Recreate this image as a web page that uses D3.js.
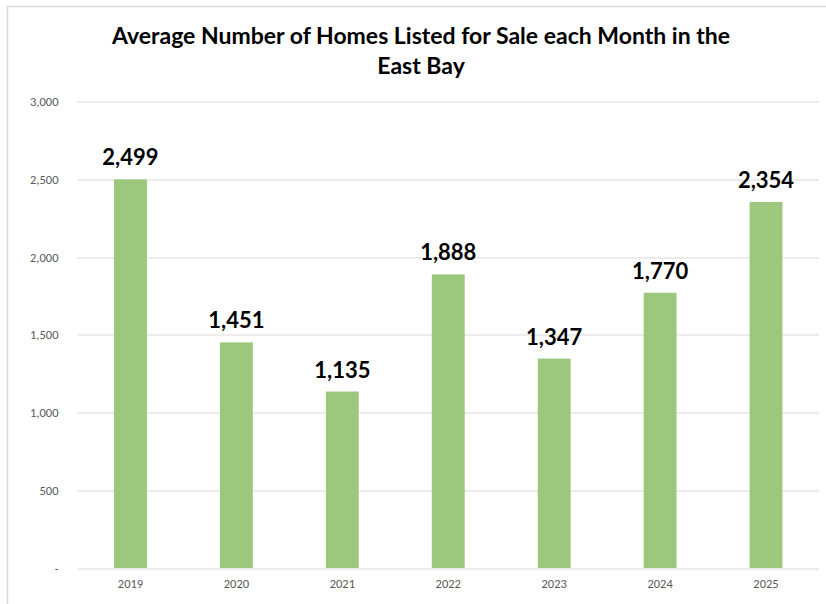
<!DOCTYPE html>
<html>
<head>
<meta charset="utf-8">
<script src="https://cdn.jsdelivr.net/npm/d3@7"></script>
<style>
  body { margin: 0; background: #fff; }
</style>
</head>
<body>
<div id="chart"></div>
<script>
// chart data
var years = ['2019', '2020', '2021', '2022', '2023', '2024', '2025'];
var homes = [2499, 1451, 1135, 1888, 1347, 1770, 2354];
var yTicks = [0, 500, 1000, 1500, 2000, 2500, 3000];
var titleLines = ['Average Number of Homes Listed for Sale each Month in the', 'East Bay'];

var W = 826, H = 604,
    margin = {top: 101.5, right: 7, bottom: 36, left: 77.5},
    width = W - margin.left - margin.right,
    height = H - margin.top - margin.bottom;

var svg = d3.select('#chart').append('svg')
    .attr('width', W).attr('height', H);

// outer chart border (only top and left show in the picture)
svg.append('path')
    .attr('d', 'M7.5,' + H + 'V6.5H' + W)
    .attr('fill', 'none')
    .attr('stroke', '#d9d9d9')
    .attr('stroke-width', 1.5);

var g = svg.append('g')
    .attr('transform', 'translate(' + margin.left + ',' + margin.top + ')');

var x = d3.scaleBand().domain(years).range([0, width]).paddingInner(0.69).paddingOuter(0.345);
var y = d3.scaleLinear().domain([0, 3000]).range([height, 0]);

// gridlines
g.selectAll('.grid').data(yTicks).enter().append('line')
    .attr('class', 'grid')
    .attr('x1', 0).attr('x2', width)
    .attr('y1', d => Math.round(y(d)) + 0.5)
    .attr('y2', d => Math.round(y(d)) + 0.5)
    .attr('stroke', '#d9d9d9').attr('stroke-width', 1);

// y axis labels
var yAxis = g.append('g')
    .call(d3.axisLeft(y).tickValues(yTicks).tickSize(0).tickPadding(19)
        .tickFormat(d => d === 0 ? '-' : d3.format(',')(d)));
yAxis.select('.domain').remove();
yAxis.selectAll('text')
    .style('font-family', 'Carlito, Calibri, "Open Sans", sans-serif')
    .style('font-size', '12.5px').attr('fill', '#595959');

// x axis labels
var xAxis = g.append('g')
    .attr('transform', 'translate(0,' + height + ')')
    .call(d3.axisBottom(x).tickSize(0).tickPadding(11));
xAxis.select('.domain').remove();
xAxis.selectAll('text')
    .style('font-family', 'Carlito, Calibri, "Open Sans", sans-serif')
    .style('font-size', '12.5px').attr('fill', '#595959');

// bars
g.selectAll('.bar').data(homes).enter().append('rect')
    .attr('class', 'bar')
    .attr('x', (d, i) => x(years[i]))
    .attr('y', d => y(d))
    .attr('width', x.bandwidth())
    .attr('height', d => height - y(d))
    .attr('fill', '#9bc87c');

// value labels
g.selectAll('.val').data(homes).enter().append('text')
    .attr('class', 'val')
    .attr('x', (d, i) => x(years[i]) + x.bandwidth() / 2)
    .attr('y', d => y(d) - 14)
    .attr('text-anchor', 'middle')
    .style('font-family', 'Lato, "Open Sans", sans-serif')
    .style('font-weight', 'bold')
    .style('font-size', '22px')
    .attr('fill', '#000')
    .text(d => d3.format(',')(d));

// title
svg.selectAll('.title').data(titleLines).enter().append('text')
    .attr('class', 'title')
    .attr('x', 421)
    .attr('y', (d, i) => 44 + i * 30)
    .attr('text-anchor', 'middle')
    .style('font-family', 'Lato, "Open Sans", sans-serif')
    .style('font-weight', 'bold')
    .style('font-size', '23px')
    .attr('fill', '#000')
    .text(d => d);
</script>
</body>
</html>
